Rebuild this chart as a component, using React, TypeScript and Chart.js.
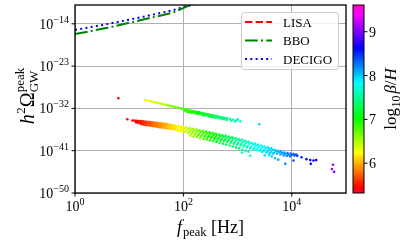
import React, { useEffect, useRef } from "react";
import { Chart, registerables } from "chart.js";

Chart.register(...registerables);

// ---------- axis settings (log10 exponents) ----------
const xTickExps = [0, 2, 4];
const yTickExps = [-50, -41, -32, -23, -14];
const xRangeExp = [0, 5];
const yRangeExp = [-50, -10];
const betaTicks = [6, 7, 8, 9];
const betaMin = 5.32;
const betaMax = 9.61;

// ---------- detector sensitivity curves (log10 f, log10 h^2 Omega) ----------
const lisaLogF = [0, 0.5, 1.0];
const lisaLogOmega = [-7.0, -5.5, -4.0];
const bboLogF = [0, 0.6, 1.2, 1.8, 2.1, 2.5];
const bboLogOmega = [-16.2, -14.85, -13.25, -11.65, -10.15, -9.0];
const decigoLogF = [0, 0.6, 1.2, 1.8, 2.0, 2.5];
const decigoLogOmega = [-15.3, -14.05, -12.65, -11.15, -10.4, -9.0];

// ---------- scatter samples [log10 f_peak, log10 h^2 Omega_peak, log10 beta/H] ----------
const isolatedPoints = [
  [0.8, -29.85, 5.42],
  [0.966, -34.3, 5.38],
  [3.4, -35.38, 7.95],
];

const upperBand = [
  [1.29, -30.2, 6.2], [1.33, -30.31, 6.24], [1.37, -30.42, 6.28], [1.41, -30.52, 6.32],
  [1.45, -30.63, 6.36], [1.49, -30.74, 6.4], [1.53, -30.85, 6.43], [1.57, -30.96, 6.46],
  [1.61, -31.06, 6.5], [1.65, -31.17, 6.53], [1.69, -31.28, 6.56], [1.73, -31.39, 6.6],
  [1.77, -31.5, 6.63], [1.81, -31.6, 6.66], [1.85, -31.71, 6.7], [1.89, -31.82, 6.73],
  [1.93, -31.93, 6.76], [1.97, -32.04, 6.8], [2.01, -32.15, 6.83], [2.05, -32.25, 6.86],
  [2.09, -32.35, 6.9], [2.13, -32.45, 6.93], [2.17, -32.55, 6.96], [2.21, -32.65, 7.0],
  [2.25, -32.75, 7.03], [2.29, -32.85, 7.06], [2.33, -32.95, 7.1], [2.37, -33.05, 7.13],
  [2.41, -33.15, 7.16], [2.45, -33.25, 7.2], [2.49, -33.35, 7.23], [2.53, -33.45, 7.26],
  [2.57, -33.55, 7.3], [2.61, -33.65, 7.33], [2.65, -33.75, 7.36], [2.69, -33.85, 7.4],
  [2.73, -33.95, 7.43], [2.77, -34.05, 7.46], [2.81, -34.15, 7.5], [2.86, -34.27, 7.55],
  [2.92, -34.42, 7.6], [2.98, -34.57, 7.65], [3.05, -34.75, 7.72],
  [2.03, -32.5, 6.88], [2.07, -32.7, 6.9], [2.11, -32.8, 6.94], [2.15, -32.9, 6.98],
  [2.19, -32.85, 7.0], [2.23, -33.1, 7.04], [2.27, -33.2, 7.07], [2.31, -33.15, 7.09],
  [2.35, -33.4, 7.13], [2.39, -33.5, 7.16], [2.43, -33.45, 7.18], [2.47, -33.7, 7.22],
  [2.51, -33.75, 7.25], [2.55, -33.85, 7.28], [2.59, -34.0, 7.32], [2.63, -33.95, 7.34],
  [2.67, -34.1, 7.38], [2.71, -34.25, 7.42], [2.75, -34.3, 7.45], [2.8, -34.45, 7.49],
  [2.88, -34.6, 7.57], [2.95, -34.8, 7.63], [3.0, -34.3, 7.66],
];

const lowerBand = [
  [1.06, -34.6, 5.4],
  [1.1, -34.6, 5.42], [1.12, -34.8, 5.43],
  [1.14, -34.65, 5.45], [1.16, -34.85, 5.46], [1.13, -35.0, 5.45],
  [1.18, -34.7, 5.48], [1.2, -34.9, 5.49], [1.17, -35.1, 5.48],
  [1.22, -34.7, 5.52], [1.24, -34.95, 5.53], [1.21, -35.2, 5.52], [1.23, -35.35, 5.53],
  [1.26, -34.75, 5.56], [1.28, -35.0, 5.57], [1.25, -35.25, 5.56], [1.27, -35.45, 5.57],
  [1.3, -34.8, 5.6], [1.32, -35.05, 5.62], [1.29, -35.3, 5.6], [1.31, -35.55, 5.61],
  [1.34, -34.85, 5.65], [1.36, -35.1, 5.67], [1.33, -35.35, 5.65], [1.35, -35.6, 5.66],
  [1.38, -34.9, 5.7], [1.4, -35.15, 5.72], [1.37, -35.4, 5.7], [1.39, -35.7, 5.71],
  [1.42, -34.95, 5.74], [1.44, -35.2, 5.76], [1.41, -35.5, 5.74], [1.43, -35.75, 5.75],
  [1.46, -35.0, 5.78], [1.48, -35.25, 5.8], [1.45, -35.55, 5.78], [1.47, -35.85, 5.79],
  [1.5, -35.05, 5.82], [1.52, -35.3, 5.84], [1.49, -35.6, 5.82], [1.51, -35.9, 5.83],
  [1.54, -35.1, 5.86], [1.56, -35.4, 5.88], [1.53, -35.7, 5.86], [1.55, -36.0, 5.87],
  [1.58, -35.15, 5.9], [1.6, -35.45, 5.92], [1.57, -35.75, 5.9], [1.59, -36.05, 5.91],
  [1.62, -35.2, 5.94], [1.64, -35.5, 5.96], [1.61, -35.8, 5.94], [1.63, -36.1, 5.95],
  [1.66, -35.3, 5.98], [1.68, -35.6, 6.0], [1.65, -35.9, 5.98], [1.67, -36.2, 5.99],
  [1.7, -35.35, 6.02], [1.72, -35.65, 6.04], [1.69, -35.95, 6.02], [1.72, -36.3, 6.04],
  [1.75, -35.45, 6.07], [1.77, -35.75, 6.09], [1.74, -36.05, 6.07], [1.77, -36.4, 6.09],
  [1.8, -35.55, 6.12], [1.82, -35.85, 6.14], [1.79, -36.15, 6.12], [1.82, -36.5, 6.14],
  [1.85, -35.65, 6.17], [1.87, -35.95, 6.19], [1.84, -36.3, 6.17], [1.87, -36.65, 6.19],
  [1.9, -35.75, 6.22], [1.92, -36.05, 6.24], [1.89, -36.4, 6.22], [1.92, -36.8, 6.24],
  [1.95, -35.85, 6.27], [1.97, -36.15, 6.29], [1.94, -36.5, 6.27], [1.97, -36.9, 6.29],
  [2.0, -35.95, 6.32], [2.02, -36.3, 6.35], [1.99, -36.65, 6.32], [2.02, -37.05, 6.35],
  [2.06, -36.05, 6.4], [2.08, -36.4, 6.43], [2.05, -36.8, 6.4], [2.09, -37.2, 6.44],
  [2.12, -36.2, 6.48], [2.14, -36.55, 6.51], [2.11, -36.95, 6.48], [2.15, -37.4, 6.52], [2.13, -37.8, 6.5],
  [2.18, -36.35, 6.56], [2.2, -36.7, 6.59], [2.17, -37.1, 6.56], [2.21, -37.55, 6.6], [2.19, -38.0, 6.58],
  [2.24, -36.5, 6.64], [2.26, -36.85, 6.67], [2.23, -37.25, 6.64], [2.27, -37.7, 6.68], [2.25, -38.1, 6.66],
  [2.3, -36.65, 6.72], [2.32, -37.0, 6.75], [2.29, -37.4, 6.72], [2.33, -37.85, 6.76], [2.31, -38.3, 6.74],
  [2.36, -36.8, 6.8], [2.38, -37.15, 6.83], [2.35, -37.55, 6.8], [2.39, -38.0, 6.84], [2.37, -38.5, 6.82],
  [2.42, -36.95, 6.88], [2.44, -37.3, 6.91], [2.41, -37.7, 6.88], [2.45, -38.15, 6.92], [2.43, -38.6, 6.9],
  [2.48, -37.1, 6.95], [2.5, -37.45, 6.98], [2.47, -37.85, 6.95], [2.51, -38.3, 6.99], [2.49, -38.8, 6.97],
  [2.54, -37.25, 7.02], [2.56, -37.6, 7.05], [2.53, -38.0, 7.02], [2.57, -38.45, 7.06], [2.55, -38.95, 7.04],
  [2.6, -37.4, 7.08], [2.62, -37.75, 7.11], [2.59, -38.15, 7.08], [2.63, -38.6, 7.12], [2.61, -39.1, 7.1],
  [2.66, -37.55, 7.14], [2.68, -37.9, 7.17], [2.65, -38.3, 7.14], [2.69, -38.8, 7.18], [2.67, -39.3, 7.16],
  [2.72, -37.7, 7.2], [2.74, -38.05, 7.23], [2.71, -38.45, 7.2], [2.75, -38.95, 7.24], [2.73, -39.5, 7.22],
  [2.78, -37.85, 7.26], [2.8, -38.2, 7.29], [2.77, -38.6, 7.26], [2.81, -39.1, 7.3], [2.79, -39.7, 7.28],
  [2.84, -38.0, 7.32], [2.86, -38.35, 7.35], [2.83, -38.8, 7.32], [2.87, -39.3, 7.36], [2.85, -39.9, 7.34],
  [2.9, -38.15, 7.38], [2.92, -38.5, 7.41], [2.89, -38.95, 7.38], [2.93, -39.5, 7.42], [2.91, -40.1, 7.4],
  [2.96, -38.3, 7.44], [2.98, -38.7, 7.47], [2.95, -39.15, 7.44], [2.99, -39.7, 7.48], [2.97, -40.3, 7.46],
  [3.02, -38.5, 7.5], [3.04, -38.9, 7.53], [3.01, -39.35, 7.5], [3.05, -39.9, 7.54], [3.03, -40.5, 7.52],
  [3.08, -38.7, 7.56], [3.1, -39.1, 7.59], [3.07, -39.55, 7.56], [3.11, -40.1, 7.6], [3.09, -40.8, 7.58], [3.08, -41.4, 7.58],
  [3.14, -38.9, 7.62], [3.16, -39.3, 7.65], [3.13, -39.75, 7.62], [3.17, -40.3, 7.66], [3.15, -41.0, 7.64],
  [3.2, -39.1, 7.68], [3.22, -39.5, 7.7], [3.19, -39.95, 7.68], [3.23, -40.5, 7.71], [3.2, -41.2, 7.7],
  [3.26, -39.3, 7.72], [3.28, -39.7, 7.74], [3.25, -40.15, 7.72], [3.29, -40.7, 7.75], [3.23, -42.1, 7.74],
  [3.32, -39.5, 7.76], [3.34, -39.9, 7.78], [3.31, -40.35, 7.76], [3.35, -40.9, 7.79],
  [3.38, -39.7, 7.8], [3.4, -40.1, 7.82], [3.37, -40.5, 7.8], [3.41, -41.0, 7.83],
  [3.44, -39.9, 7.84], [3.46, -40.3, 7.86], [3.43, -40.7, 7.84], [3.47, -41.1, 7.87], [3.45, -41.3, 7.85],
  [3.5, -40.1, 7.88], [3.52, -40.5, 7.9], [3.49, -40.9, 7.88], [3.53, -41.4, 7.91], [3.5, -42.0, 7.9],
  [3.56, -40.3, 7.92], [3.58, -40.7, 7.94], [3.55, -41.1, 7.92], [3.59, -41.5, 7.95], [3.58, -41.9, 7.93],
  [3.62, -40.5, 7.96], [3.64, -40.9, 7.98], [3.61, -41.3, 7.96], [3.65, -41.6, 7.99], [3.63, -42.2, 7.97],
  [3.68, -40.8, 8.0], [3.7, -41.1, 8.02], [3.67, -41.5, 8.0], [3.69, -42.6, 8.02],
  [3.74, -41.0, 8.05], [3.76, -41.3, 8.07], [3.73, -41.6, 8.05], [3.75, -42.9, 8.07],
  [3.8, -41.2, 8.1], [3.82, -41.5, 8.12], [3.79, -41.8, 8.1],
  [3.86, -41.4, 8.15], [3.88, -41.7, 8.17], [3.85, -42.0, 8.15], [3.88, -43.8, 8.2],
  [3.92, -41.5, 8.22], [3.94, -41.8, 8.24], [3.91, -42.1, 8.22],
  [3.98, -41.6, 8.28], [4.0, -41.9, 8.3], [3.97, -42.2, 8.28],
  [4.03, -41.7, 8.35], [4.05, -42.0, 8.37], [4.03, -43.1, 8.36],
  [4.08, -41.8, 8.4], [4.1, -42.1, 8.42],
  [4.18, -42.4, 8.5], [4.27, -42.8, 8.55], [4.34, -43.0, 8.6], [4.35, -43.8, 8.62],
  [4.4, -43.1, 8.65], [4.45, -43.0, 8.7],
  [4.74, -44.9, 9.05], [4.76, -44.0, 9.1], [4.78, -45.5, 9.0],
];

// ---------- colormap (gist_rainbow) ----------
const rainbowStops = [
  [0.0, 1.0, 0.0, 0.16],
  [0.03, 1.0, 0.0, 0.0],
  [0.215, 1.0, 1.0, 0.0],
  [0.4, 0.0, 1.0, 0.0],
  [0.586, 0.0, 1.0, 1.0],
  [0.77, 0.0, 0.0, 1.0],
  [0.954, 1.0, 0.0, 1.0],
  [1.0, 1.0, 0.0, 0.75],
];

function rgbAt(t: number): string {
  const u = Math.min(1, Math.max(0, t));
  for (let i = 0; i < rainbowStops.length - 1; i++) {
    const a = rainbowStops[i];
    const b = rainbowStops[i + 1];
    if (u <= b[0]) {
      const k = (u - a[0]) / (b[0] - a[0] || 1);
      const r = Math.round(255 * (a[1] + (b[1] - a[1]) * k));
      const g = Math.round(255 * (a[2] + (b[2] - a[2]) * k));
      const bl = Math.round(255 * (a[3] + (b[3] - a[3]) * k));
      return `rgb(${r},${g},${bl})`;
    }
  }
  return "rgb(255,0,191)";
}
const betaColor = (v: number) => rgbAt((v - betaMin) / (betaMax - betaMin));

// ---------- rich text helpers ----------
const FAMILY = '"Liberation Serif", "DejaVu Serif", serif';
type Part = {
  t?: string;
  size: number;
  dy?: number;
  italic?: boolean;
  sub?: string;
  sup?: string;
  subDy?: number;
  supDy?: number;
  gap?: number;
};
const fontOf = (size: number, italic?: boolean) => `${italic ? "italic " : ""}${size}px ${FAMILY}`;

function partWidth(ctx: CanvasRenderingContext2D, p: Part) {
  if (p.sub !== undefined) {
    ctx.font = fontOf(p.size);
    return Math.max(ctx.measureText(p.sub).width, ctx.measureText(p.sup || "").width) + (p.gap || 0);
  }
  ctx.font = fontOf(p.size, p.italic);
  return ctx.measureText(p.t || "").width + (p.gap || 0);
}
function richWidth(ctx: CanvasRenderingContext2D, parts: Part[]) {
  return parts.reduce((s, p) => s + partWidth(ctx, p), 0);
}
function drawRich(ctx: CanvasRenderingContext2D, parts: Part[], x: number, y: number) {
  let cx = x;
  ctx.textAlign = "left";
  ctx.textBaseline = "alphabetic";
  for (const p of parts) {
    const w = partWidth(ctx, p);
    if (p.sub !== undefined) {
      ctx.font = fontOf(p.size);
      ctx.fillText(p.sub, cx, y + (p.subDy || 0));
      ctx.fillText(p.sup || "", cx, y + (p.supDy || 0));
    } else {
      ctx.font = fontOf(p.size, p.italic);
      ctx.fillText(p.t || "", cx, y + (p.dy || 0));
    }
    cx += w;
  }
}
const powerLabel = (e: number): Part[] => [
  { t: "10", size: 14 },
  { t: (e < 0 ? "\u2212" : "") + Math.abs(e), size: 10, dy: -6 },
];

const overlayPlugin = {
  id: "overlay",
  afterDraw(chart: any) {
    const ctx: CanvasRenderingContext2D = chart.ctx;
    const { left, right, top, bottom } = chart.chartArea;
    const xs = chart.scales.x;
    const ys = chart.scales.y;
    ctx.save();
    ctx.fillStyle = "#000";
    ctx.strokeStyle = "#000";

    // frame
    ctx.lineWidth = 1.3;
    ctx.strokeRect(left, top, right - left, bottom - top);

    // ticks + labels
    ctx.lineWidth = 1;
    for (const e of xTickExps) {
      const x = xs.getPixelForValue(Math.pow(10, e));
      ctx.beginPath();
      ctx.moveTo(x, bottom);
      ctx.lineTo(x, bottom + 3.5);
      ctx.stroke();
      const parts = powerLabel(e);
      drawRich(ctx, parts, x - richWidth(ctx, parts) / 2, bottom + 18);
    }
    for (const e of yTickExps) {
      const y = ys.getPixelForValue(Math.pow(10, e));
      ctx.beginPath();
      ctx.moveTo(left, y);
      ctx.lineTo(left - 3.5, y);
      ctx.stroke();
      const parts = powerLabel(e);
      drawRich(ctx, parts, left - 6 - richWidth(ctx, parts), y + 5);
    }

    // x title
    const xt: Part[] = [
      { t: "f", size: 18, italic: true, gap: 1 },
      { t: "peak", size: 12.5, dy: 3 },
      { t: " [Hz]", size: 18 },
    ];
    drawRich(ctx, xt, (left + right) / 2 - richWidth(ctx, xt) / 2, 233);

    // y title
    const yt: Part[] = [
      { t: "h", size: 20, italic: true, gap: 0.5 },
      { t: "2", size: 13, dy: -9 },
      { t: "\u03A9", size: 20 },
      { sub: "GW", sup: "peak", size: 13, subDy: 3.5, supDy: -10 },
    ];
    ctx.save();
    ctx.translate(34, 96);
    ctx.rotate(-Math.PI / 2);
    drawRich(ctx, yt, -richWidth(ctx, yt) / 2, 0);
    ctx.restore();

    // colorbar
    const cbL = 353;
    const cbR = 364;
    const grad = ctx.createLinearGradient(0, bottom, 0, top);
    for (const s of rainbowStops) grad.addColorStop(s[0], rgbAt(s[0]));
    ctx.fillStyle = grad;
    ctx.fillRect(cbL, top, cbR - cbL, bottom - top);
    ctx.lineWidth = 1;
    ctx.strokeStyle = "#000";
    ctx.strokeRect(cbL, top, cbR - cbL, bottom - top);
    ctx.fillStyle = "#000";
    for (const v of betaTicks) {
      const y = bottom - ((v - betaMin) / (betaMax - betaMin)) * (bottom - top);
      ctx.beginPath();
      ctx.moveTo(cbR, y);
      ctx.lineTo(cbR + 3.5, y);
      ctx.stroke();
      drawRich(ctx, [{ t: String(v), size: 14 }], cbR + 5, y + 5);
    }
    const ct: Part[] = [
      { t: "log", size: 17, gap: 0.5 },
      { t: "10", size: 12, dy: 4, gap: 2 },
      { t: "\u03B2", size: 17, italic: true },
      { t: "/", size: 17 },
      { t: "H", size: 17, italic: true },
    ];
    ctx.save();
    ctx.translate(396, (top + bottom) / 2);
    ctx.rotate(-Math.PI / 2);
    drawRich(ctx, ct, -richWidth(ctx, ct) / 2, 0);
    ctx.restore();

    // legend
    const lx = 241.5;
    const ly = 12.5;
    ctx.beginPath();
    (ctx as any).roundRect(lx, ly, 97, 57, 3);
    ctx.fillStyle = "rgba(255,255,255,0.8)";
    ctx.fill();
    ctx.strokeStyle = "#cccccc";
    ctx.stroke();
    const entries = chart.data.datasets.filter((d: any) => d.label);
    entries.forEach((d: any, i: number) => {
      const y = 22 + i * 18.5;
      ctx.strokeStyle = d.borderColor;
      ctx.lineWidth = d.borderWidth;
      ctx.setLineDash(d.borderDash || []);
      ctx.beginPath();
      ctx.moveTo(245, y);
      ctx.lineTo(272, y);
      ctx.stroke();
      ctx.setLineDash([]);
      ctx.fillStyle = "#000";
      drawRich(ctx, [{ t: d.label, size: 13 }], 283, y + 4.5);
    });
    ctx.restore();
  },
};

const toXY = (fs: number[], os: number[]) =>
  fs.map((f, i) => ({ x: Math.pow(10, f), y: Math.pow(10, os[i]) }));

export default function App() {
  const ref = useRef<HTMLCanvasElement | null>(null);
  useEffect(() => {
    if (!ref.current) return;
    const pts = [...isolatedPoints, ...upperBand, ...lowerBand];
    const lineCommon = {
      showLine: true,
      pointRadius: 0,
      pointHoverRadius: 0,
      borderWidth: 2,
      borderCapStyle: "butt" as const,
      fill: false,
      tension: 0,
    };
    const chart = new Chart(ref.current, {
      type: "scatter",
      data: {
        datasets: [
          {
            data: pts.map((p) => ({ x: Math.pow(10, p[0]), y: Math.pow(10, p[1]) })),
            backgroundColor: pts.map((p) => betaColor(p[2])),
            pointRadius: 1.3,
            pointBorderWidth: 0,
            pointHoverRadius: 0,
          },
          { ...lineCommon, label: "LISA", data: toXY(lisaLogF, lisaLogOmega), borderColor: "#ff0000", borderDash: [7.4, 3.2] },
          { ...lineCommon, label: "BBO", data: toXY(bboLogF, bboLogOmega), borderColor: "#008000", borderDash: [12.8, 3.2, 2, 3.2] },
          { ...lineCommon, label: "DECIGO", data: toXY(decigoLogF, decigoLogOmega), borderColor: "#0000ff", borderDash: [2, 3.3] },
        ],
      } as any,
      options: {
        responsive: false,
        animation: false,
        devicePixelRatio: 1,
        events: [],
        layout: { padding: { left: 0, top: 5, right: 59, bottom: 0 } },
        plugins: { legend: { display: false }, tooltip: { enabled: false } },
        scales: {
          x: {
            type: "logarithmic",
            min: Math.pow(10, xRangeExp[0]),
            max: Math.pow(10, xRangeExp[1]),
            afterBuildTicks: (s: any) => {
              s.ticks = xTickExps.map((e) => ({ value: Math.pow(10, e) }));
            },
            afterFit: (s: any) => {
              s.height = 51;
            },
            ticks: { display: false },
            grid: { color: "#b0b0b0", lineWidth: 1, drawTicks: false },
            border: { display: false },
          },
          y: {
            type: "logarithmic",
            min: Math.pow(10, yRangeExp[0]),
            max: Math.pow(10, yRangeExp[1]),
            afterBuildTicks: (s: any) => {
              s.ticks = yTickExps.map((e) => ({ value: Math.pow(10, e) }));
            },
            afterFit: (s: any) => {
              s.width = 75;
            },
            ticks: { display: false },
            grid: { color: "#b0b0b0", lineWidth: 1, drawTicks: false },
            border: { display: false },
          },
        },
      } as any,
      plugins: [overlayPlugin],
    });
    return () => chart.destroy();
  }, []);
  return (
    <div style={{ position: "absolute", left: 0, top: 0, width: 405, height: 244, background: "#fff" }}>
      <canvas ref={ref} width={405} height={244} style={{ display: "block", width: 405, height: 244 }} />
    </div>
  );
}
